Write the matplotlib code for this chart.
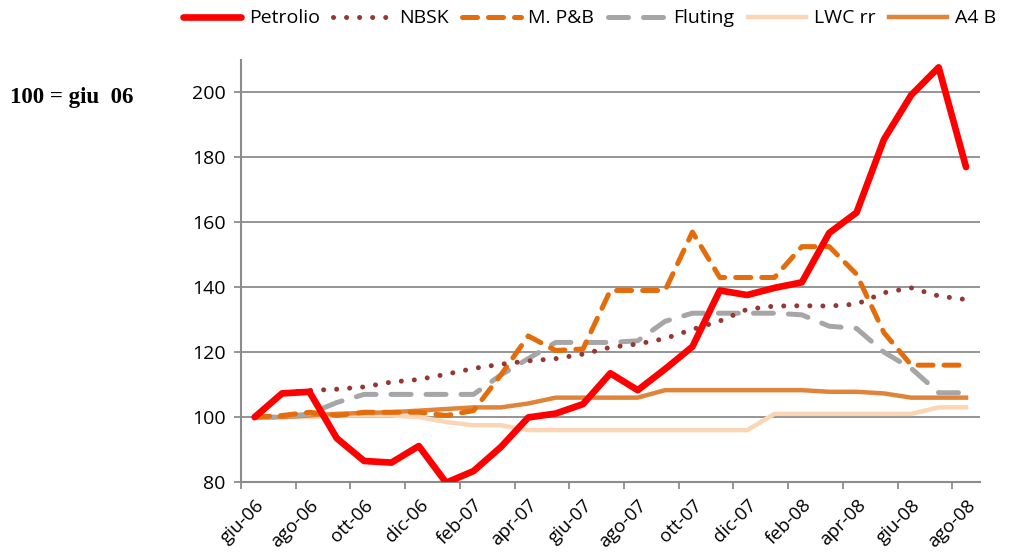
import numpy as np
import matplotlib
matplotlib.use("Agg")
from matplotlib import pyplot as plt

months = ["giu-06", "lug-06", "ago-06", "set-06", "ott-06", "nov-06", "dic-06",
          "gen-07", "feb-07", "mar-07", "apr-07", "mag-07", "giu-07", "lug-07",
          "ago-07", "set-07", "ott-07", "nov-07", "dic-07", "gen-08", "feb-08",
          "mar-08", "apr-08", "mag-08", "giu-08", "lug-08", "ago-08"]

petrolio = [100, 107.3, 107.8, 93.5, 86.5, 86.0, 91.1, 79.8, 83.4, 90.8, 99.9, 101.1,
            104.0, 113.5, 108.3, 114.8, 121.7, 139.0, 137.6, 139.8, 141.5, 156.7,
            163.0, 185.5, 199.2, 207.7, 177.0]
nbsk = [100, 107.5, 108.2, 108.6, 109.3, 110.8, 111.6, 113.2, 115.0, 116.3, 117.3,
        118.0, 119.4, 121.5, 122.5, 124.2, 127.0, 129.6, 133.2, 134.2, 134.3, 134.2,
        134.8, 138.3, 139.8, 137.3, 136.2]
mpb = [100, 100.5, 101.5, 100.5, 101.5, 101.5, 101.5, 100.5, 102.0, 113.0, 125.0,
       120.5, 121.0, 139.0, 139.0, 139.0, 157.0, 143.0, 143.0, 143.0, 152.5, 152.5,
       144.0, 126.0, 116.0, 116.0, 116.0]
fluting = [100, 100, 101.0, 104.5, 107.0, 107.0, 107.0, 107.0, 107.0, 113.0, 118.0,
           123.0, 123.0, 123.0, 123.5, 129.5, 132.0, 132.0, 132.0, 132.0, 131.5,
           128.0, 127.3, 120.0, 115.0, 107.5, 107.5]
lwc = [100, 100, 100, 100.5, 100.5, 100.5, 100, 98.5, 97.5, 97.5, 96, 96, 96, 96,
       96, 96, 96, 96, 96, 101, 101, 101, 101, 101, 101, 103, 103]
a4b = [100, 100, 100.5, 101, 101.3, 101.5, 102, 102.5, 103, 103, 104.2, 106, 106,
       106, 106, 108.3, 108.3, 108.3, 108.3, 108.3, 108.3, 107.8, 107.8, 107.3,
       106, 106, 106]

x = np.arange(len(months))
grid_col = "#8c8c8c"
plt.rcParams["font.family"] = ["Open Sans", "DejaVu Sans"]

fig = plt.figure(figsize=(10.1, 5.57), dpi=100)
ax = fig.add_axes([0.2386, 0.1345, 0.7314, 0.758])

ax.plot(x, lwc, color="#fcd5b5", lw=3.2, label="LWC rr", zorder=2)
ax.plot(x, a4b, color="#e0843a", lw=3.2, label="A4 B", zorder=2)
ax.plot(x, fluting, color="#a6a6a6", lw=3.6, ls=(0, (4, 3)), dash_capstyle="round",
        label="Fluting", zorder=3)
ax.plot(x, mpb, color="#e46c0a", lw=3.6, ls=(0, (3, 2.2)), dash_capstyle="round",
        label="M. P&B", zorder=4)
ax.plot(x, nbsk, color="#953735", lw=3.6, ls=(0, (0.01, 2.6)), dash_capstyle="round",
        label="NBSK", zorder=4)
ax.plot(x, petrolio, color="#ff0000", lw=4.8, solid_capstyle="round",
        solid_joinstyle="round", label="Petrolio", zorder=5)

ax.set_xlim(-0.5, len(months) - 0.5)
ax.set_ylim(80, 210)
ax.set_yticks(np.arange(80, 201, 20))
ax.yaxis.grid(True, color=grid_col, lw=1.3)
ax.set_axisbelow(True)

ax.set_xticks(np.arange(-0.5, len(months) - 1, 2))
ax.set_xticklabels([])
ax.set_xticks(x[::2], minor=True)
ax.set_xticklabels(months[::2], minor=True, rotation=45, ha="right",
                   rotation_mode="anchor", fontsize=13.5)
ax.tick_params(axis="x", which="major", length=5, width=1.3, color=grid_col)
ax.tick_params(axis="x", which="minor", length=0, pad=10)
ax.tick_params(axis="y", length=5, width=1.3, color=grid_col, labelsize=14, pad=6)

for s in ["top", "right"]:
    ax.spines[s].set_visible(False)
for s in ["left", "bottom"]:
    ax.spines[s].set_color(grid_col)
    ax.spines[s].set_linewidth(1.5)

handles, labels = ax.get_legend_handles_labels()
order = ["Petrolio", "NBSK", "M. P&B", "Fluting", "LWC rr", "A4 B"]
h = [handles[labels.index(n)] for n in order]
fig.legend(h, order, loc="upper left", bbox_to_anchor=(0.1735, 0.997), ncol=6,
           frameon=False, fontsize=14, handlelength=3.0, handletextpad=0.4,
           columnspacing=0.68, borderaxespad=0)

fig.text(0.01, 0.815, "100 = giu  06", family=["Liberation Serif", "DejaVu Serif"],
         fontweight="bold", fontsize=16.5)

fig.savefig("out.png", dpi=100)
